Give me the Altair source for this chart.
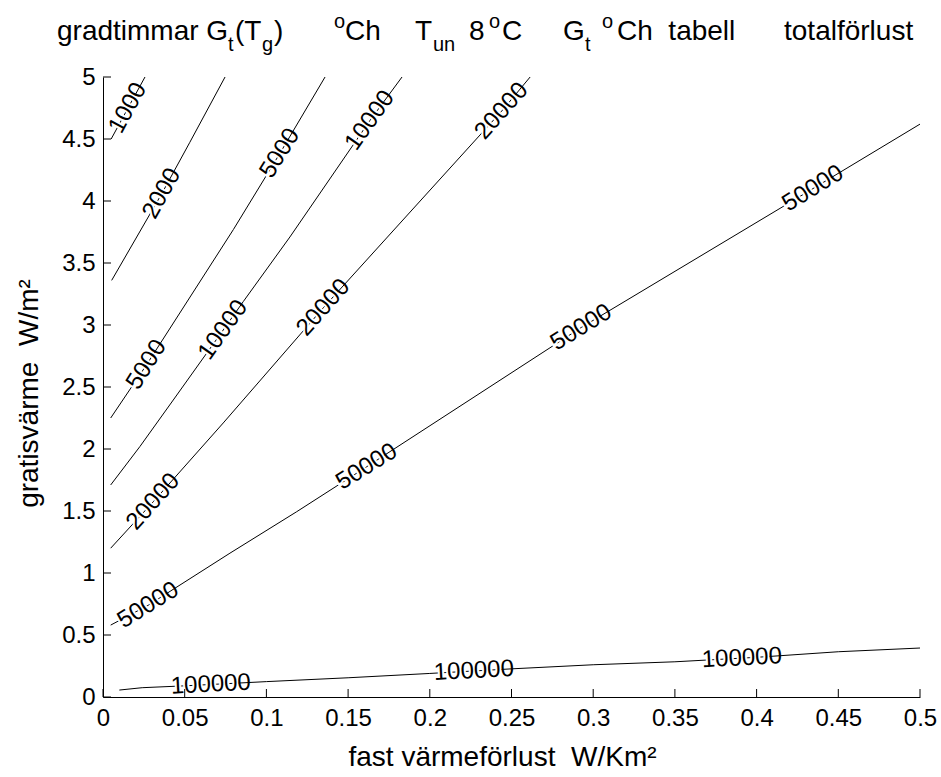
import math
import altair as alt
import pandas as pd

FONT = "Liberation Sans, Arial, Helvetica, sans-serif"
NB = "\u00a0"

# ---- contour lines ----
levels = [1000, 2000, 5000, 10000, 20000, 50000, 100000]

c1000_x = [0.005, 0.0153, 0.0257]
c1000_y = [4.50, 4.75, 5.0]

c2000_x = [0.0053, 0.036, 0.053, 0.0747]
c2000_y = [3.36, 4.06, 4.47, 5.0]

c5000_x = [0.0047, 0.0267, 0.0798, 0.1083, 0.1359]
c5000_y = [2.25, 2.68, 3.77, 4.385, 5.0]

c10000_x = [0.0047, 0.0226, 0.043, 0.0736, 0.0859, 0.1144, 0.1634, 0.183]
c10000_y = [1.71, 2.02, 2.395, 2.96, 3.19, 3.71, 4.65, 5.0]

c20000_x = [0.0047, 0.0308, 0.0736, 0.1349, 0.244, 0.2614]
c20000_y = [1.20, 1.575, 2.21, 3.14, 4.725, 5.0]

c50000_x = [0.0047, 0.0277, 0.0777, 0.1185, 0.1614, 0.2927, 0.4345, 0.5]
c50000_y = [0.58, 0.74, 1.16, 1.494, 1.857, 2.98, 4.10, 4.62]

c100000_x = [0.01, 0.024, 0.05, 0.1, 0.15, 0.2, 0.25, 0.3, 0.35, 0.4, 0.45, 0.5]
c100000_y = [0.056, 0.075, 0.09, 0.124, 0.155, 0.19, 0.227, 0.26, 0.284, 0.32, 0.365, 0.395]

# ---- inline contour labels ----
label_level = [1000, 2000, 5000, 5000, 10000, 10000, 20000, 20000, 20000,
               50000, 50000, 50000, 50000, 100000, 100000, 100000]
label_x = [0.0153, 0.036, 0.0267, 0.1083, 0.0736, 0.1634, 0.0308, 0.1349, 0.244,
           0.0277, 0.1614, 0.2927, 0.4345, 0.066, 0.227, 0.391]
label_y = [4.75, 4.06, 2.68, 4.385, 2.96, 4.65, 1.575, 3.14, 4.725,
           0.74, 1.857, 2.98, 4.10, 0.10, 0.21, 0.313]

x_ticks = [0, 0.05, 0.1, 0.15, 0.2, 0.25, 0.3, 0.35, 0.4, 0.45, 0.5]
y_ticks = [0, 0.5, 1, 1.5, 2, 2.5, 3, 3.5, 4, 4.5, 5]

W, H = 817, 620
XMAX, YMAX = 0.5, 5.0

curves = {
    1000: (c1000_x, c1000_y), 2000: (c2000_x, c2000_y), 5000: (c5000_x, c5000_y),
    10000: (c10000_x, c10000_y), 20000: (c20000_x, c20000_y),
    50000: (c50000_x, c50000_y), 100000: (c100000_x, c100000_y),
}

rows = []
for lev in levels:
    xs, ys = curves[lev]
    for i, (a, b) in enumerate(zip(xs, ys)):
        rows.append({"level": lev, "x": a, "y": b, "ord": i})
lines_df = pd.DataFrame(rows)

def pix_angle(lev):
    xs, ys = curves[lev]
    dxp = (xs[-1] - xs[0]) * W / XMAX
    dyp = (ys[-1] - ys[0]) * H / YMAX
    deg = math.degrees(math.atan2(dyp, dxp))
    return (360 - deg) % 360

lab_rows = []
for lev, a, b in zip(label_level, label_x, label_y):
    s = str(lev)
    lab_rows.append({"x": a, "y": b, "txt": s, "halo": s[:-1], "ang": pix_angle(lev)})
labels_df = pd.DataFrame(lab_rows)

xscale = alt.Scale(domain=[0, XMAX], nice=False, zero=False)
yscale = alt.Scale(domain=[0, YMAX], nice=False, zero=False)

TFS = 28
xaxis = alt.Axis(values=x_ticks, format="~g", grid=False, ticks=False,
                 labelFont=FONT, labelFontSize=24, labelColor="black", labelPadding=9,
                 labelFlush=False, labelOverlap=False,
                 domainColor="black", domainWidth=1,
                 title="fast värmeförlust" + NB + NB + "W/Km²", titleFont=FONT, titleFontSize=TFS,
                 titleFontWeight="normal", titleColor="black",
                 titleY=68, titleX=399, titleBaseline="alphabetic")
yaxis = alt.Axis(values=y_ticks, format="~g", grid=False, ticks=False,
                 labelFont=FONT, labelFontSize=24, labelColor="black", labelPadding=8,
                 labelFlush=False, labelOverlap=False,
                 domainColor="black", domainWidth=1,
                 title="gratisvärme" + NB + NB + "W/m²", titleFont=FONT, titleFontSize=TFS,
                 titleFontWeight="normal", titleColor="black",
                 titleAngle=270, titleX=-66, titleY=316, titleAlign="center",
                 titleBaseline="alphabetic")

base_lines = alt.Chart(lines_df).mark_line(color="black", strokeWidth=1).encode(
    x=alt.X("x:Q", scale=xscale, axis=xaxis),
    y=alt.Y("y:Q", scale=yscale, axis=yaxis),
    detail="level:N",
    order="ord:Q",
)

halo = alt.Chart(labels_df).mark_text(
    font=FONT, fontSize=24, align="center", baseline="middle", dx=-6.7,
    color="white", stroke="white", strokeWidth=4,
).encode(
    x=alt.X("x:Q", scale=xscale), y=alt.Y("y:Q", scale=yscale),
    text="halo:N", angle=alt.Angle("ang:Q", scale=None),
)

labels = alt.Chart(labels_df).mark_text(
    font=FONT, fontSize=24, align="center", baseline="middle", color="black",
).encode(
    x=alt.X("x:Q", scale=xscale), y=alt.Y("y:Q", scale=yscale),
    text="txt:N", angle=alt.Angle("ang:Q", scale=None),
)

xt_df = pd.DataFrame({"v": x_ticks})
yt_df = pd.DataFrame({"v": y_ticks})
xtick_rules = alt.Chart(xt_df).mark_rule(color="black", strokeWidth=1).encode(
    x=alt.X("v:Q", scale=xscale), y=alt.value(H), y2=alt.value(H - 8))
ytick_rules = alt.Chart(yt_df).mark_rule(color="black", strokeWidth=1).encode(
    y=alt.Y("v:Q", scale=yscale), x=alt.value(0), x2=alt.value(8))

# ---- title composed of pieces (main / subscript / superscript) ----
OX, OY = 103, 77
MAIN_B, SUB_B, SUP_B = 40, 51, 28
pieces = [
    ("gradtimmar G", 57, "main"), ("t", 228, "sub"), ("(T", 235, "main"),
    ("g", 262, "sub"), (")", 274, "main"), ("o", 334, "sup"), ("Ch", 345, "main"),
    ("T", 415, "main"), ("un", 433, "sub"), ("8", 469, "main"), ("o", 489, "sup"),
    ("C", 502, "main"), ("G", 563, "main"), ("t", 585, "sub"), ("o", 602, "sup"),
    ("Ch" + NB + NB + "tabell", 617, "main"), ("totalförlust", 784, "main"),
]
title_layers = []
dummy = pd.DataFrame({"a": [0]})
for txt, px, kind in pieces:
    if kind == "main":
        fs, by = 28, MAIN_B
    elif kind == "sub":
        fs, by = 20, SUB_B
    else:
        fs, by = 20, SUP_B
    title_layers.append(
        alt.Chart(dummy).mark_text(
            text=txt, font=FONT, fontSize=fs, align="left", baseline="alphabetic",
            color="black",
        ).encode(x=alt.value(px - OX), y=alt.value(by - OY))
    )

chart = alt.layer(base_lines, halo, labels, xtick_rules, ytick_rules, *title_layers).properties(
    width=W, height=H,
    autosize=alt.AutoSizeParams(type="none"),
    padding={"left": 103, "top": 77, "right": 21, "bottom": 80},
    background="white",
).configure_view(strokeWidth=0)

chart.save("out.html", embed_options={"renderer": "svg", "actions": False})
